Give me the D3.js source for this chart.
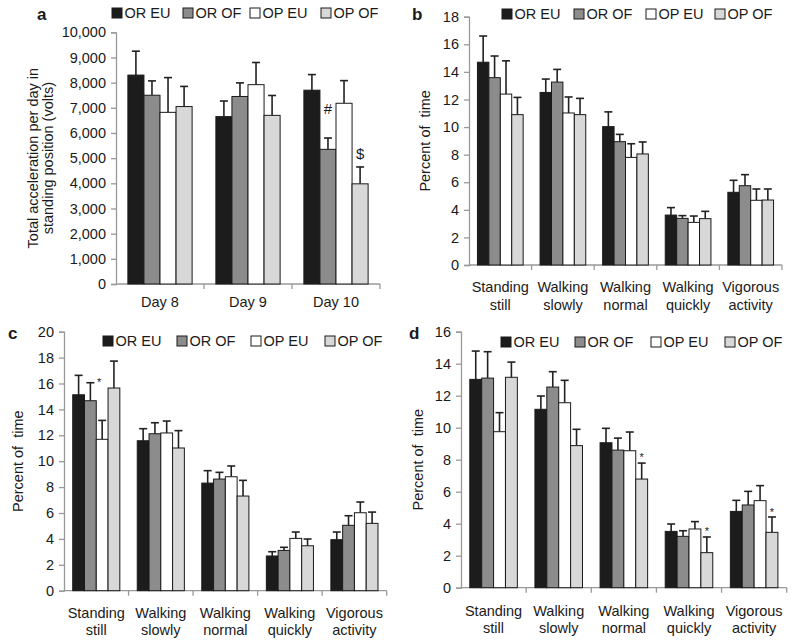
<!DOCTYPE html>
<html><head><meta charset="utf-8">
<script src="https://cdn.jsdelivr.net/npm/d3@7"></script>
<style>
body{margin:0;background:#fff;}
svg text{font-family:"Liberation Sans",Arial,sans-serif;fill:#1a1a1a;}
</style></head>
<body><svg id="c" width="800" height="644"></svg>
<script>
const series = ["OR EU","OR OF","OP EU","OP OF"];
const seriesColors = ["#1c1c1c","#8c8c8c","#ffffff","#d8d8d8"];

const daysA = ["Day 8","Day 9","Day 10"];
const activities = [["Standing","still"],["Walking","slowly"],["Walking","normal"],["Walking","quickly"],["Vigorous","activity"]];

// Panel a: total acceleration (volts)
const aMeans = [[8300,7500,6820,7050],[6650,7450,7920,6700],[7700,5350,7180,3980]];
const aErrTop = [[9250,8070,8200,7850],[7270,7990,8800,7490],[8320,5800,8080,4650]];
const aTicks = [0,1000,2000,3000,4000,5000,6000,7000,8000,9000,10000];
const aMarks = [{g:2,s:1,t:"#",v:6750},{g:2,s:3,t:"$",v:4950}];

// Panel b
const bMeans = [[14.7,13.58,12.39,10.9],[12.51,13.26,11.02,10.9],[10.03,8.94,7.8,8.05],[3.62,3.38,3.09,3.36],[5.27,5.75,4.69,4.71]];
const bErrTop = [[16.6,15.15,14.8,12.15],[13.48,14.18,12.18,12.08],[11.1,9.47,8.79,8.92],[4.16,3.58,3.55,3.89],[6.14,6.55,5.51,5.51]];
const bTicks = [0,2,4,6,8,10,12,14,16,18];

// Panel c
const cMeans = [[15.13,14.67,11.69,15.65],[11.58,12.12,12.18,11.02],[8.31,8.62,8.8,7.31],[2.68,3.11,4.04,3.47],[3.94,5.05,6.02,5.2]];
const cErrTop = [[16.63,16.06,13.15,17.73],[12.51,12.97,13.1,12.36],[9.27,9.14,9.63,8.52],[3.01,3.35,4.53,3.99],[4.53,5.79,6.85,6.07]];
const cTicks = [0,2,4,6,8,10,12,14,16,18,20];
const cMarks = [{g:0,s:2,t:"*",v:15.8,dx:-3}];

// Panel d
const dMeans = [[13.02,13.1,9.75,13.15],[11.15,12.54,11.56,8.88],[9.06,8.6,8.56,6.79],[3.52,3.21,3.67,2.19],[4.77,5.17,5.44,3.46]];
const dErrTop = [[14.79,14.75,10.94,14.1],[11.98,13.5,12.96,9.9],[9.96,9.35,9.73,7.79],[3.98,3.56,4.13,3.17],[5.46,6.02,6.38,4.42]];
const dTicks = [0,2,4,6,8,10,12,14,16];
const dMarks = [{g:2,s:3,t:"*",v:7.9},{g:3,s:3,t:"*",v:3.3},{g:4,s:3,t:"*",v:4.5}];

const svg = d3.select("#c");

function panel(o){
  const g = svg.append("g");
  const x = d3.scaleBand().domain(d3.range(o.cats.length)).range([o.x0,o.x1]).padding(0);
  const bw = x.bandwidth();
  const xs = d3.scaleBand().domain(d3.range(series.length)).range([bw*0.135,bw*0.865]).padding(0);
  const y = d3.scaleLinear().domain([0,o.max]).range([o.y0,o.y1]);

  // y axis
  const ya = d3.axisLeft(y).tickValues(o.ticks).tickSize(5).tickPadding(5).tickFormat(o.fmt||d3.format("d"));
  const yg = g.append("g").attr("transform",`translate(${o.x0},0)`).call(ya);
  yg.select(".domain").attr("stroke","#999").attr("stroke-width",1.3);
  yg.selectAll(".tick line").attr("stroke","#999").attr("stroke-width",1.3);
  yg.selectAll(".tick text").attr("font-size",14.5).attr("fill","#1a1a1a").style("font-family","Liberation Sans, Arial, sans-serif");

  // x axis baseline + boundary ticks
  g.append("line").attr("x1",o.x0).attr("x2",o.x1).attr("y1",y(0)).attr("y2",y(0)).attr("stroke","#999").attr("stroke-width",1.3);
  const bounds = d3.range(o.cats.length+1).map(i=> i<o.cats.length ? x(i) : o.x1);
  g.selectAll(".bt").data(bounds.slice(1)).join("line")
    .attr("x1",d=>d).attr("x2",d=>d).attr("y1",y(0)).attr("y2",y(0)+5).attr("stroke","#999").attr("stroke-width",1.3);

  // bars
  o.means.forEach((row,gi)=>{
    row.forEach((v,si)=>{
      const bx = x(gi)+xs(si), w = xs.bandwidth();
      const cx = bx + w/2;
      const et = o.err[gi][si];
      g.append("line").attr("x1",cx).attr("x2",cx).attr("y1",y(v)).attr("y2",y(et)).attr("stroke","#222").attr("stroke-width",1.6);
      g.append("line").attr("x1",cx-4).attr("x2",cx+4).attr("y1",y(et)).attr("y2",y(et)).attr("stroke","#222").attr("stroke-width",1.6);
      g.append("rect").attr("x",bx).attr("y",y(v)).attr("width",w).attr("height",y(0)-y(v))
        .attr("fill",seriesColors[si]).attr("stroke","#1a1a1a").attr("stroke-width",1);
    });
  });

  // annotation marks
  (o.marks||[]).forEach(m=>{
    const cx = x(m.g)+xs(m.s)+xs.bandwidth()/2 + (m.dx||0);
    g.append("text").attr("x",cx).attr("y",y(m.v)).attr("text-anchor","middle")
      .attr("font-size", m.t==="*"?11:15).text(m.t);
  });

  // category labels
  o.cats.forEach((c,i)=>{
    const cx = x(i)+bw/2;
    const lines = Array.isArray(c)?c:[c];
    lines.forEach((l,li)=>{
      g.append("text").attr("x",cx).attr("y",y(0)+o.labDy+li*17.5).attr("text-anchor","middle").attr("font-size",14.5).text(l);
    });
  });

  // y title
  const yc = (o.y0+o.y1)/2;
  o.ytitle.forEach((t,i)=>{
    g.append("text").attr("transform",`translate(${o.tx+i*15},${yc}) rotate(-90)`)
      .attr("text-anchor","middle").attr("font-size",14.5).style("white-space","pre").text(t);
  });

  // panel letter
  g.append("text").attr("x",o.lx).attr("y",o.ly).attr("font-size",17).attr("font-weight","bold").text(o.letter);

  // legend
  series.forEach((s,i)=>{
    const lx = o.legX[i];
    g.append("rect").attr("x",lx).attr("y",o.legY-5).attr("width",10).attr("height",10)
      .attr("fill",seriesColors[i]).attr("stroke","#1a1a1a").attr("stroke-width",1);
    g.append("text").attr("x",lx+12.5).attr("y",o.legY+5).attr("font-size",14.5).text(s);
  });
}

panel({cats:daysA,means:aMeans,err:aErrTop,ticks:aTicks,max:10000,fmt:d3.format(","),
  x0:116,x1:380,y0:284,y1:32.3,labDy:23,ytitle:["Total acceleration per day in","standing position (volts)"],tx:38,
  letter:"a",lx:37,ly:20,legX:[112,183,250,321],legY:13,marks:aMarks});
panel({cats:activities,means:bMeans,err:bErrTop,ticks:bTicks,max:18,
  x0:469,x1:782,y0:265,y1:16.7,labDy:27,ytitle:["Percent of  time"],tx:430,
  letter:"b",lx:412,ly:20,legX:[502,574,646,715],legY:14,marks:[]});
panel({cats:activities,means:cMeans,err:cErrTop,ticks:cTicks,max:20,
  x0:64,x1:386.7,y0:590.7,y1:331.7,labDy:27,ytitle:["Percent of  time"],tx:23,
  letter:"c",lx:8,ly:339,legX:[103,177,251,325],legY:341,marks:cMarks});
panel({cats:activities,means:dMeans,err:dErrTop,ticks:dTicks,max:16,
  x0:461,x1:786.7,y0:587.7,y1:331.7,labDy:28,ytitle:["Percent of  time"],tx:423,
  letter:"d",lx:409,ly:339,legX:[501,575,651,725],legY:342,marks:dMarks});
</script></body></html>
